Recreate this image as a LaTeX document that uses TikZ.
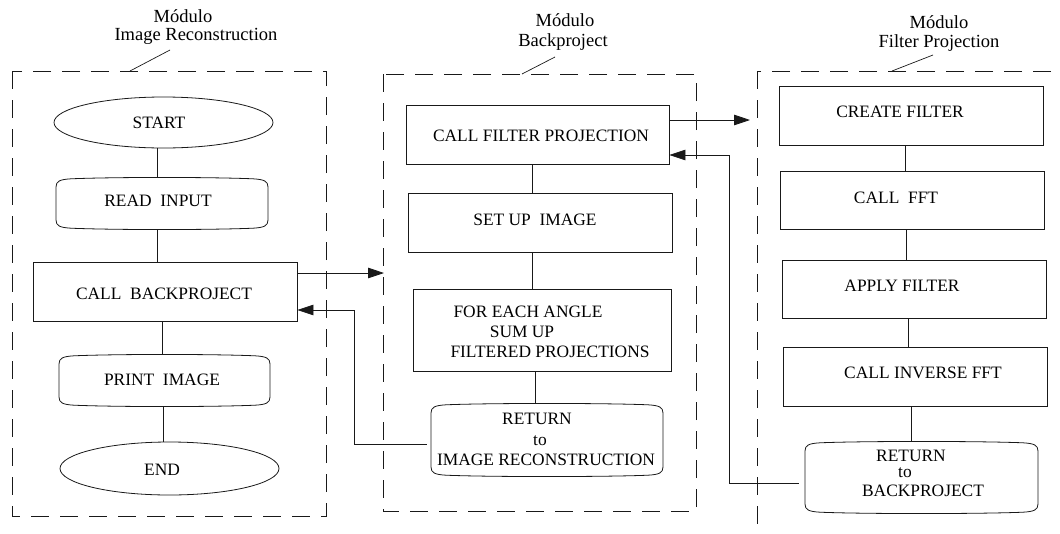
\documentclass[tikz,border=0pt]{standalone}
\usepackage{fontspec}
\setmainfont{Liberation Serif}
\usetikzlibrary{shapes.geometric,arrows.meta,fit,calc}

% box with softly rounded corners and slightly bulging top and bottom
\newcommand\softbox[5]{%
  \node[inner sep=0pt, fit={(#2,#3)(#4,#5)}] (#1) {};
  \draw[line] (#2,#3+9) .. controls (#2,#3+3) and (#2+4,#3+1.5) .. (#2+15,#3+0.8)
     .. controls (#2+60,#3-1) and (#4-60,#3-1) .. (#4-15,#3+0.8)
     .. controls (#4-4,#3+1.5) and (#4,#3+3) .. (#4,#3+9)
     -- (#4,#5-9)
     .. controls (#4,#5-3) and (#4-4,#5-1.5) .. (#4-15,#5-0.8)
     .. controls (#4-60,#5+1) and (#2+60,#5+1) .. (#2+15,#5-0.8)
     .. controls (#2+4,#5-1.5) and (#2,#5-3) .. (#2,#5-9) -- cycle;}
% plain rectangular step
\newcommand\stepbox[5]{%
  \node[plainbox, fit={(#2,#3)(#4,#5)}] (#1) {};}

\begin{document}
\begin{tikzpicture}[x=1pt,y=-1pt,
  line/.style={draw=black!90, line width=0.8pt},
  module/.style={draw=black!90, line width=0.8pt, dash pattern=on 18pt off 11pt},
  arr/.style={line, -{Triangle[length=16pt,width=10.5pt]}},
  plainbox/.style={rectangle, line, inner sep=0pt},
  oval/.style={ellipse, line, inner sep=0pt},
  txt/.style={anchor=base, inner sep=0pt, font=\fontsize{17.4}{20}\selectfont},
  modcap/.style={anchor=base, inner sep=0pt, font=\fontsize{18.5}{22}\selectfont},
  leader/.style={draw=black!90, line width=0.7pt}]

\useasboundingbox (0,0) rectangle (1060,533);
\clip (0,0) rectangle (1060,533);

% ---------- module frames ----------
\draw[module] (12,71) rectangle (326,516);
\draw[module] (383,74) rectangle (696,511);
\draw[module] (757,71) rectangle (1100,600);

% ---------- module captions ----------
\node[modcap] (irA) at (183,22) {Módulo};
\node[modcap] (irB) at (196,40.7) {Image Reconstruction};
\node[modcap] (bpA) at (565,26) {Módulo};
\node[modcap] (bpB) at (563,46.7) {Backproject};
\node[modcap] (fpA) at (939,28) {Módulo};
\node[modcap] (fpB) at (939,47.7) {Filter Projection};
\coordinate (irL1) at (170,50);  \coordinate (irL2) at (130,71);
\coordinate (bpL1) at (555,57);  \coordinate (bpL2) at (522,74);
\coordinate (fpL1) at (933,55);  \coordinate (fpL2) at (892,71);
\draw[leader] (irL1) -- (irL2);
\draw[leader] (bpL1) -- (bpL2);
\draw[leader] (fpL1) -- (fpL2);

% ---------- Image Reconstruction ----------
\node[oval, minimum width=219pt, minimum height=51pt] (start) at (163.5,122.5) {};
\softbox{readin}{56}{178}{268}{229}
\stepbox{callbp}{33}{262}{297}{321}
\softbox{printimg}{59}{355}{270}{406}
\node[oval, minimum width=219pt, minimum height=53pt] (endn) at (169.5,468.5) {};

\node[txt] (tstart) at (159,128) {START};
\node[txt] (tread) at (158,206.7) {READ~~INPUT};
\node[txt] (tcallbp) at (164,299) {CALL~~BACKPROJECT};
\node[txt] (tprint) at (162,385) {PRINT~~IMAGE};
\node[txt] (tend) at (162,475) {END};

\draw[line] (157,0 |- start.south) -- (157,0 |- readin.north);
\draw[line] (157,0 |- readin.south) -- (157,0 |- callbp.north);
\draw[line] (162,0 |- callbp.south) -- (162,0 |- printimg.north);
\draw[line] (163,0 |- printimg.south) -- (163,0 |- endn.north);

% ---------- Backproject ----------
\stepbox{callfp}{406}{105}{669}{164}
\stepbox{setup}{408}{193}{672}{252}
\stepbox{foreach}{413}{289}{671}{371}
\softbox{retir}{431}{404}{663}{476}

\node[txt] (tcallfp) at (541,141.7) {CALL FILTER PROJECTION};
\node[txt] (tsetup) at (535,225) {SET UP~~IMAGE};
\node[txt] (tfe1) at (528,317.3) {FOR EACH ANGLE};
\node[txt] (tfe2) at (522,337.7) {SUM UP};
\node[txt] (tfe3) at (550,357.7) {FILTERED PROJECTIONS};
\node[txt] (tri1) at (537,424.3) {RETURN};
\node[txt] (tri2) at (540,445) {to};
\node[txt] (tri3) at (546,465) {IMAGE RECONSTRUCTION};

\draw[line] (532,0 |- callfp.south) -- (532,0 |- setup.north);
\draw[line] (532,0 |- setup.south) -- (532,0 |- foreach.north);
\draw[line] (535,0 |- foreach.south) -- (535,0 |- retir.north);

% ---------- Filter Projection ----------
\stepbox{create}{779}{86}{1043}{145}
\stepbox{fft}{780}{171}{1044}{229}
\stepbox{apply}{782}{260}{1046}{318}
\stepbox{inverse}{783}{347}{1047}{406}
\softbox{retbp}{805}{442}{1038}{513}

\node[txt] (tcreate) at (900,117.3) {CREATE FILTER};
\node[txt] (tfft) at (896,203) {CALL~~FFT};
\node[txt] (tapply) at (902,291.7) {APPLY FILTER};
\node[txt] (tinverse) at (923,378.3) {CALL INVERSE FFT};
\node[txt] (trb1) at (911,461) {RETURN};
\node[txt] (trb2) at (905,477.7) {to};
\node[txt] (trb3) at (923,496) {BACKPROJECT};

\draw[line] (905,0 |- create.south) -- (905,0 |- fft.north);
\draw[line] (906,0 |- fft.south) -- (906,0 |- apply.north);
\draw[line] (908,0 |- apply.south) -- (908,0 |- inverse.north);
\draw[line] (911,0 |- inverse.south) -- (911,0 |- retbp.north);

% ---------- calls and returns between modules ----------
\coordinate (bpin) at (384,273);
\coordinate (fpin) at (750,120);
\draw[arr] (callbp.east |- bpin) -- (bpin);
\draw[arr] (callfp.east |- fpin) -- (fpin);
\draw[arr] ([shift={(-4,4)}]retir.west) -| (354,310) -- (callbp.east |- 0,310);
\draw[arr] ([shift={(-6,5.5)}]retbp.west) -| (729,155) -- (callfp.east |- 0,155);

\end{tikzpicture}
\end{document}
